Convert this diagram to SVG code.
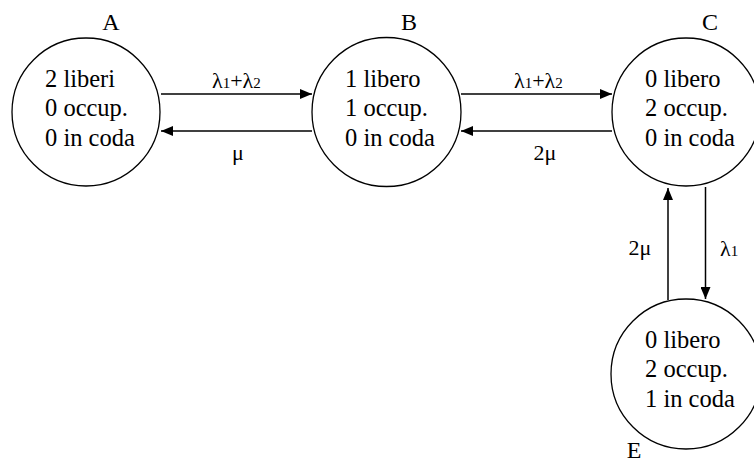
<svg xmlns="http://www.w3.org/2000/svg" width="754" height="463" viewBox="0 0 754 463">
<defs>
<marker id="ah" markerWidth="12" markerHeight="10" refX="12" refY="5" orient="auto" markerUnits="userSpaceOnUse">
<path d="M0,0 L12,5 L0,10 Z" fill="#000"/>
</marker>
<style>
text{font-family:"Liberation Serif","Times New Roman",serif;fill:#000}
.st{font-size:24.5px}
.nm{font-size:24px}
.lb{font-size:22px}
.sub{font-size:15px}
circle{fill:#fff;stroke:#000;stroke-width:1.3}
.c line{stroke:#000;stroke-width:1.5;marker-end:url(#ah)}
</style>
</defs>
<rect width="754" height="463" fill="#fff"/>
<g id="A">
<circle cx="86" cy="112" r="74"/>
<text class="nm" x="111" y="30" text-anchor="middle">A</text>
<text class="st" x="45" y="87">2 liberi</text>
<text class="st" x="45" y="116">0 occup.</text>
<text class="st" x="45" y="146">0 in coda</text>
</g>
<g id="B">
<circle cx="386.5" cy="112" r="74.5"/>
<text class="nm" x="409" y="30" text-anchor="middle">B</text>
<text class="st" x="345" y="87">1 libero</text>
<text class="st" x="345" y="116">1 occup.</text>
<text class="st" x="345" y="146">0 in coda</text>
</g>
<g id="C">
<circle cx="686" cy="112" r="74"/>
<text class="nm" x="710" y="30" text-anchor="middle">C</text>
<text class="st" x="645" y="87">0 libero</text>
<text class="st" x="645" y="116">2 occup.</text>
<text class="st" x="645" y="146">0 in coda</text>
</g>
<g id="E">
<circle cx="686" cy="374" r="75"/>
<text class="nm" x="634" y="458" text-anchor="middle">E</text>
<text class="st" x="645" y="348">0 libero</text>
<text class="st" x="645" y="377">2 occup.</text>
<text class="st" x="645" y="407">1 in coda</text>
</g>
<g id="connectors" class="c">
<line x1="161" y1="94" x2="312" y2="94"/>
<line x1="312" y1="131" x2="161" y2="131"/>
<line x1="461" y1="94" x2="612" y2="94"/>
<line x1="612" y1="131" x2="461" y2="131"/>
<line x1="705.5" y1="187" x2="705.5" y2="299"/>
<line x1="668" y1="300" x2="668" y2="188"/>
<text class="lb" x="212" y="88">λ<tspan class="sub">1</tspan>+λ<tspan class="sub">2</tspan></text>
<text class="lb" x="238" y="160" text-anchor="middle">μ</text>
<text class="lb" x="514" y="88">λ<tspan class="sub">1</tspan>+λ<tspan class="sub">2</tspan></text>
<text class="lb" x="545" y="160" text-anchor="middle">2μ</text>
<text class="lb" x="640" y="255" text-anchor="middle">2μ</text>
<text class="lb" x="720" y="256">λ<tspan class="sub">1</tspan></text>
</g>
</svg>
